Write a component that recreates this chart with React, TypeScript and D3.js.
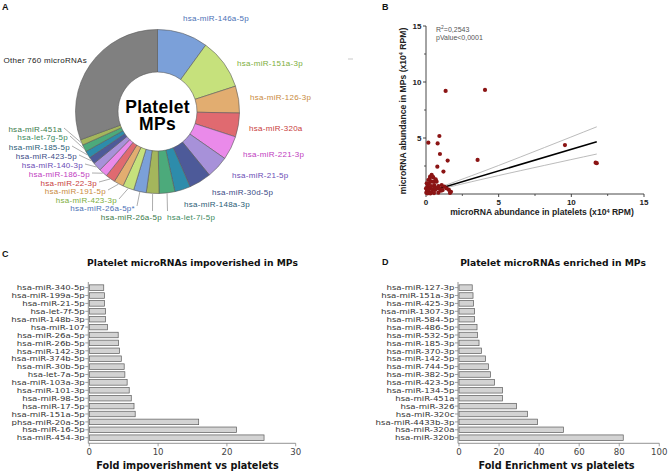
import React from 'react';
import * as d3 from 'd3';

// ---------- Panel A data ----------
const pieLabels = [
  'hsa-miR-146a-5p', 'hsa-miR-151a-3p', 'hsa-miR-126-3p', 'hsa-miR-320a', 'hsa-miR-221-3p',
  'hsa-miR-21-5p', 'hsa-miR-30d-5p', 'hsa-miR-148a-3p', 'hsa-let-7i-5p', 'hsa-miR-26a-5p',
  'hsa-miR-26a-5p*', 'hsa-miR-423-3p', 'hsa-miR-191-5p', 'hsa-miR-22-3p', 'hsa-miR-186-5p',
  'hsa-miR-140-3p', 'hsa-miR-423-5p', 'hsa-miR-185-5p', 'hsa-let-7g-5p', 'hsa-miR-451a',
  'Other 760 microRNAs',
];
const pieValues = [10.0, 10.0, 5.3, 4.7, 4.7, 4.4, 4.4, 3.1, 3.1, 2.5, 2.5, 2.2, 1.9, 1.9, 1.7, 1.7, 1.4, 1.4, 1.4, 1.1, 30.6];

// ---------- Panel B data ----------
const scatterX = [1.35, 4.06, 0.92, 0.16, 0.8, 0.96, 1.49, 3.55, 0.78, 1.2, 9.56, 11.67, 11.75,
  0.39, 0.28, 0.5, 0.67, 0.16, 0.34, 0.05, 0.2, 0.57, 0.85, 1.08, 1.26, 1.42, 1.58, 1.72, 0.11, 0.28,
  0.44, 0.62, 0.73, 0.07, 0.2, 0.39, 0.02, 0.85, 1.03, 0.0, 0.5, 0.73, 0.1, 0.3, 0.55, 0.15, 0.35,
  0.6, 0.95, 1.15, 1.65, 0.25, 0.45];
const scatterY = [9.2, 9.29, 5.18, 4.58, 4.52, 3.57, 2.98, 3.04, 2.44, 2.0, 4.37, 2.8, 2.75,
  1.7, 1.55, 1.49, 1.3, 1.25, 1.1, 0.95, 0.9, 0.8, 0.7, 0.8, 0.65, 0.5, 0.36, 0.2, 0.65, 0.5,
  0.42, 0.36, 0.5, 0.3, 0.2, 0.15, 0.12, 0.12, 0.3, 0.5, 1.1, 1.1, 0.05, 0.05, 0.08, 0.4, 0.7,
  0.6, 0.45, 0.35, 0.1, 1.35, 1.55];
const fitX = [0.7, 11.75];
const fitY = [0.4, 4.67];
const ciUpperX = [0.7, 5, 11.75];
const ciUpperY = [0.48, 2.55, 6.0];
const ciLowerX = [0.7, 5, 11.75];
const ciLowerY = [0.34, 1.65, 3.57];
const scatterTicks = [0, 5, 10, 15];
const scatterMinorTicks = [2.5, 7.5, 12.5];

// ---------- Panel C data ----------
const impLabels = ['hsa-miR-340-5p', 'hsa-miR-199a-5p', 'hsa-miR-21-5p', 'hsa-let-7f-5p', 'hsa-miR-148b-3p',
  'hsa-miR-107', 'hsa-miR-26a-5p', 'hsa-miR-26b-5p', 'hsa-miR-142-3p', 'hsa-miR-374b-5p',
  'hsa-miR-30b-5p', 'hsa-let-7a-5p', 'hsa-miR-103a-3p', 'hsa-miR-101-3p', 'hsa-miR-98-5p',
  'hsa-miR-17-5p', 'hsa-miR-151a-5p', 'phsa-miR-20a-5p', 'hsa-miR-16-5p', 'hsa-miR-454-3p'];
const impValues = [2.1, 2.2, 2.2, 2.35, 2.35, 2.65, 4.2, 4.25, 4.4, 4.65, 5.07, 5.17, 5.5, 5.8, 6.1, 6.5, 6.67, 15.9, 21.4, 25.4];
const impTicks = [0, 10, 20, 30];

// ---------- Panel D data ----------
const enrLabels = ['hsa-miR-127-3p', 'hsa-miR-151a-3p', 'hsa-miR-425-3p', 'hsa-miR-1307-3p', 'hsa-miR-584-5p',
  'hsa-miR-486-5p', 'hsa-miR-532-5p', 'hsa-miR-185-3p', 'hsa-miR-370-3p', 'hsa-miR-142-5p',
  'hsa-miR-744-5p', 'hsa-miR-382-5p', 'hsa-miR-423-5p', 'hsa-miR-134-5p', 'hsa-miR-451a',
  'hsa-miR-326', 'hsa-miR-320c', 'hsa-miR-4433b-3p', 'hsa-miR-320a', 'hsa-miR-320b'];
const enrValues = [6.6, 7.0, 7.3, 7.8, 7.8, 9.0, 9.2, 10.0, 11.2, 13.2, 14.7, 15.7, 17.7, 21.7, 21.7, 28.7, 34.2, 39.2, 52.1, 82.0];
const enrTicks = [0, 20, 40, 60, 80, 100];

// ---------- styles / layout ----------
const sliceColors = ['#7ba0d9', '#c6e17c', '#e2ad70', '#e06a70', '#ea8aea', '#a791d9', '#4d5a99', '#2d8cab', '#4caa7b', '#a4b65c'];
const textColors = ['#4a70b5', '#7cae3c', '#c98a40', '#c83c3c', '#c03cc0', '#6a4cb5', '#3a4a85', '#2a5c75', '#3a8a5c', '#3a7a4a'];
// label layout: [x, y baseline, anchor, leader?, leaderX, leaderY]
const pieLabelLayout: [number, number, string, boolean, number, number][] = [
  [183, 20.5, 'start', false, 0, 0],
  [237, 65.5, 'start', false, 0, 0],
  [250, 99.5, 'start', false, 0, 0],
  [249, 130.5, 'start', false, 0, 0],
  [243, 156.5, 'start', false, 0, 0],
  [232, 177.5, 'start', false, 0, 0],
  [212, 194.5, 'start', false, 0, 0],
  [184, 206.5, 'start', false, 0, 0],
  [167, 219.5, 'start', true, 167.5, 211],
  [162, 219.5, 'end', true, 152.5, 211],
  [135, 210.5, 'end', true, 137, 206],
  [117, 202.5, 'end', true, 119, 199],
  [106, 193.5, 'end', true, 108, 190],
  [97, 185.5, 'end', true, 99, 182],
  [90, 176.5, 'end', true, 92, 173],
  [83, 167.5, 'end', true, 85, 164],
  [77, 158.5, 'end', true, 79, 155],
  [70, 149.5, 'end', true, 72, 146],
  [68, 139.5, 'end', true, 70, 136],
  [62, 131.5, 'end', true, 64, 128],
  [87, 62.5, 'end', false, 0, 0],
];

const BAR_FONT = '"DejaVu Sans", Verdana, sans-serif';
const ARIAL = '"Liberation Sans", Arial, sans-serif';

function PieA() {
  const cx = 157.5, cy = 111.5, R = 82, r = 39.5;
  const pie = d3.pie<number>().sort(null).value((d) => d);
  const arcs = pie(pieValues);
  const arc = d3.arc<d3.PieArcDatum<number>>().innerRadius(r).outerRadius(R);
  return (
    <g>
      <g transform={`translate(${cx},${cy})`}>
        {arcs.map((a, i) => (
          <path key={i} d={arc(a) || ''} fill={i === arcs.length - 1 ? '#808080' : sliceColors[i % 10]}
            stroke="#5a5a5a" strokeWidth={0.6} />
        ))}
        <text textAnchor="middle" y={1.5} fontFamily={ARIAL} fontWeight="bold" fontSize={17.5} letterSpacing={0.3} fill="#000">Platelet</text>
        <text textAnchor="middle" y={18.5} fontFamily={ARIAL} fontWeight="bold" fontSize={17.5} letterSpacing={0.3} fill="#000">MPs</text>
      </g>
      {arcs.map((a, i) => {
        const L = pieLabelLayout[i];
        if (!L[3]) return null;
        const mid = (a.startAngle + a.endAngle) / 2;
        const px = cx + (R + 0.5) * Math.sin(mid);
        const py = cy - (R + 0.5) * Math.cos(mid);
        return <line key={'l' + i} x1={L[4]} y1={L[5]} x2={px} y2={py} stroke="#8a8a8a" strokeWidth={0.7} />;
      })}
      {pieLabels.map((t, i) => {
        const L = pieLabelLayout[i];
        return (
          <text key={'t' + i} x={L[0]} y={L[1]} textAnchor={L[2] as any} fontFamily={ARIAL} fontSize={8}
            letterSpacing={0.28}
            fill={i === pieLabels.length - 1 ? '#222' : textColors[i % 10]}>{t}</text>
        );
      })}
    </g>
  );
}

function ScatterB() {
  const x = d3.scaleLinear().domain([0, 15]).range([426, 644]);
  const y = d3.scaleLinear().domain([0, 15]).range([194, 26]);
  const line = d3.line<[number, number]>().x((d) => x(d[0])).y((d) => y(d[1]));
  const curve = d3.line<[number, number]>().x((d) => x(d[0])).y((d) => y(d[1])).curve(d3.curveNatural);
  const fit = fitX.map((v, i) => [v, fitY[i]] as [number, number]);
  const up = ciUpperX.map((v, i) => [v, ciUpperY[i]] as [number, number]);
  const lo = ciLowerX.map((v, i) => [v, ciLowerY[i]] as [number, number]);
  return (
    <g fontFamily={ARIAL}>
      <line x1={348} x2={353} y1={59} y2={59} stroke="#bbb" strokeWidth={0.8} />
      <line x1={x(0)} x2={x(0)} y1={y(15)} y2={y(0)} stroke="#333" strokeWidth={0.9} />
      <line x1={x(0)} x2={x(15)} y1={y(0)} y2={y(0)} stroke="#333" strokeWidth={0.9} />
      {scatterTicks.map((t) => (
        <g key={'xt' + t}>
          <line x1={x(t)} x2={x(t)} y1={y(0)} y2={y(0) + 3} stroke="#333" strokeWidth={0.9} />
          <text x={x(t)} y={205} textAnchor="middle" fontSize={8} fontWeight="bold" fill="#222">{t}</text>
        </g>
      ))}
      {scatterMinorTicks.map((t) => (
        <g key={'mt' + t}>
          <line x1={x(t)} x2={x(t)} y1={y(0)} y2={y(0) + 2} stroke="#333" strokeWidth={0.8} />
          <line x1={x(0) - 2} x2={x(0)} y1={y(t)} y2={y(t)} stroke="#333" strokeWidth={0.8} />
        </g>
      ))}
      {scatterTicks.filter((t) => t > 0).map((t) => (
        <g key={'yt' + t}>
          <line x1={x(0) - 3} x2={x(0)} y1={y(t)} y2={y(t)} stroke="#333" strokeWidth={0.9} />
          <text x={421.5} y={y(t) + 3} textAnchor="end" fontSize={8} fontWeight="bold" fill="#222">{t}</text>
        </g>
      ))}
      <path d={curve(up) || ''} fill="none" stroke="#aaa" strokeWidth={0.8} />
      <path d={curve(lo) || ''} fill="none" stroke="#aaa" strokeWidth={0.8} />
      <path d={line(fit) || ''} fill="none" stroke="#000" strokeWidth={1.5} />
      {scatterX.map((v, i) => (
        <circle key={i} cx={x(v)} cy={y(scatterY[i])} r={2.1} fill="#8b1414" />
      ))}
      <text x={436} y={31.5} fontSize={7} fill="#555">R<tspan dy={-2.5} fontSize={5}>2</tspan><tspan dy={2.5}>=0,2543</tspan></text>
      <text x={436} y={39.5} fontSize={7} fill="#555">pValue&lt;0,0001</text>
      <text x={542} y={215} textAnchor="middle" fontSize={8.6} fontWeight="bold" fill="#222">microRNA abundance in platelets (x10<tspan dy={-2.5} fontSize={5.5}>4</tspan><tspan dy={2.5}> RPM)</tspan></text>
      <text transform="translate(405.5,111) rotate(-90)" textAnchor="middle" fontSize={8.6} fontWeight="bold" fill="#222">microRNA abundance in MPs (x10<tspan dy={-2.5} fontSize={5.5}>4</tspan><tspan dy={2.5}> RPM)</tspan></text>
    </g>
  );
}

function BarPanel(props: { labels: string[]; values: number[]; ticks: number[]; x0: number; x1: number; title: string; titleX: number; axisTitle: string; axisTitleX: number }) {
  const { labels, values, ticks, x0, x1 } = props;
  const max = ticks[ticks.length - 1];
  const x = d3.scaleLinear().domain([0, max]).range([x0, x1]);
  const y = d3.scaleBand<string>().domain(labels).range([282, 443.3]).paddingInner(0.3).paddingOuter(0.36);
  const axisY = 443.3;
  const axisX = x0 - 1;
  return (
    <g fontFamily={BAR_FONT}>
      <text x={props.titleX} y={266} textAnchor="middle" fontSize={9.2} fontWeight="bold" fill="#111">{props.title}</text>
      <line x1={axisX} x2={axisX} y1={282} y2={axisY} stroke="#777" strokeWidth={0.8} />
      <line x1={axisX} x2={x1} y1={axisY} y2={axisY} stroke="#777" strokeWidth={0.8} />
      {labels.map((l, i) => {
        const cy = (y(l) || 0) + y.bandwidth() / 2;
        return (
          <g key={l + i}>
            <rect x={x(0)} y={y(l)} width={x(values[i]) - x(0)} height={y.bandwidth()} fill="#d3d3d3" stroke="#5a5a5a" strokeWidth={0.7} />
            <line x1={axisX - 3} x2={axisX} y1={cy} y2={cy} stroke="#777" strokeWidth={0.7} />
            <g transform={`translate(${axisX - 3.5},${cy + 2.7}) scale(1.13,1)`}>
              <text x={0} y={0} textAnchor="end" fontSize={7.6} fill="#333">{l}</text>
            </g>
          </g>
        );
      })}
      {ticks.map((t) => (
        <g key={'t' + t}>
          <line x1={x(t)} x2={x(t)} y1={axisY} y2={axisY + 3} stroke="#777" strokeWidth={0.7} />
          <text x={x(t)} y={454.5} textAnchor="middle" fontSize={8.6} fill="#444">{t}</text>
        </g>
      ))}
      <text x={props.axisTitleX} y={469} textAnchor="middle" fontSize={9.7} fontWeight="bold" fill="#111">{props.axisTitle}</text>
    </g>
  );
}

export default function App() {
  return (
    <svg width={669} height={474} style={{ position: 'absolute', left: 0, top: 0, background: '#fff' }}>
      <rect width={669} height={474} fill="#fff" />
      <g fontFamily={ARIAL} fontWeight="bold" fontSize={9} fill="#111">
        <text x={2} y={10}>A</text>
        <text x={382} y={10}>B</text>
        <text x={2} y={257}>C</text>
        <text x={382} y={265}>D</text>
      </g>
      <PieA />
      <ScatterB />
      <BarPanel labels={impLabels} values={impValues} ticks={impTicks} x0={89.3} x1={295.7}
        title="Platelet microRNAs impoverished in MPs" titleX={192.5}
        axisTitle="Fold impoverishment vs platelets" axisTitleX={187.5} />
      <BarPanel labels={enrLabels} values={enrValues} ticks={enrTicks} x0={459} x1={659.3}
        title="Platelet microRNAs enriched in MPs" titleX={553}
        axisTitle="Fold Enrichment vs platelets" axisTitleX={556.5} />
    </svg>
  );
}
